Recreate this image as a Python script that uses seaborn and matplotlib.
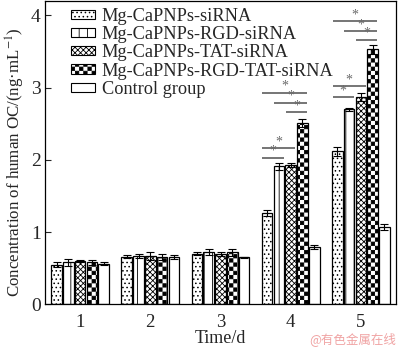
import warnings
warnings.filterwarnings("ignore")
import numpy as np
import pandas as pd
import matplotlib
matplotlib.use("Agg")
import matplotlib.pyplot as plt
import matplotlib.hatch as mhatch
from matplotlib.path import Path
from matplotlib.patches import Patch
import seaborn as sns

# ---------------- data ----------------
days = ["1", "2", "3", "4", "5"]
groups = ["Mg-CaPNPs-siRNA", "Mg-CaPNPs-RGD-siRNA", "Mg-CaPNPs-TAT-siRNA",
          "Mg-CaPNPs-RGD-TAT-siRNA", "Control group"]
mg_sirna = [0.55, 0.66, 0.70, 1.26, 2.12]
mg_rgd = [0.58, 0.67, 0.72, 1.91, 2.70]
mg_tat = [0.60, 0.67, 0.70, 1.93, 2.87]
mg_rgd_tat = [0.58, 0.66, 0.72, 2.51, 3.53]
control = [0.56, 0.66, 0.65, 0.79, 1.07]
err_sirna = [0.03, 0.02, 0.02, 0.04, 0.06]
err_rgd = [0.05, 0.03, 0.04, 0.05, 0.02]
err_tat = [0.02, 0.05, 0.03, 0.03, 0.05]
err_rgd_tat = [0.03, 0.04, 0.05, 0.06, 0.06]
err_control = [0.02, 0.03, 0.01, 0.03, 0.045]
# significance: (day index, group i, group j, y level)
sig_day = [3, 3, 3, 3, 3, 4, 4, 4, 4, 4]
sig_i = [0, 0, 2, 1, 0, 0, 0, 2, 1, 0]
sig_j = [1, 2, 3, 3, 3, 1, 2, 3, 3, 3]
sig_y = [2.03, 2.16, 2.66, 2.79, 2.93, 2.87, 3.02, 3.66, 3.78, 3.92]

values = [mg_sirna, mg_rgd, mg_tat, mg_rgd_tat, control]
errors = [err_sirna, err_rgd, err_tat, err_rgd_tat, err_control]


# ---------------- checkerboard hatch ----------------
class CheckerHatch(mhatch.HatchPatternBase):
    def __init__(self, hatch, density):
        self.num = 24 if "c" in hatch else 0
        self.num_vertices = (self.num * self.num // 2) * 5

    def set_vertices_and_codes(self, vertices, codes):
        n = self.num
        s = 1.0 / n
        ins = 0.004
        k = 0
        for i in range(n):
            for j in range(n):
                if (i + j) % 2 == 0:
                    x0, y0 = i * s + ins, j * s + ins
                    x1, y1 = (i + 1) * s - ins, (j + 1) * s - ins
                    vertices[k:k + 5] = [[x0, y0], [x1, y0], [x1, y1], [x0, y1], [x0, y0]]
                    codes[k:k + 5] = [Path.MOVETO, Path.LINETO, Path.LINETO,
                                      Path.LINETO, Path.CLOSEPOLY]
                    k += 5


mhatch._hatch_types.append(CheckerHatch)

hatches = ["....", "||", "xxxxxx", "c", ""]

# ---------------- style ----------------
sns.set_style("ticks")
plt.rcParams["font.family"] = ["Liberation Serif", "DejaVu Serif"]
plt.rcParams["mathtext.fontset"] = "stix"
plt.rcParams["hatch.color"] = "black"
plt.rcParams["hatch.linewidth"] = 0.6

df = pd.DataFrame({
    "day": np.repeat(days, len(groups)),
    "group": groups * len(days),
    "value": [values[g][d] for d in range(len(days)) for g in range(len(groups))],
})

fig = plt.figure(figsize=(4.0, 3.49), dpi=100)
ax = fig.add_axes([0.1125, 0.128, 0.8775, 0.869])

sns.barplot(data=df, x="day", y="value", hue="group", order=days, hue_order=groups,
            palette=["white"] * 5, edgecolor="black", linewidth=0.9,
            width=0.84, gap=0.1, errorbar=None, legend=False, ax=ax)

bar_conts = list(ax.containers)
w = bar_conts[0][0].get_width()
centers = []
for gi, cont in enumerate(bar_conts):
    xs = []
    for bar in cont:
        bar.set_hatch(hatches[gi])
        xs.append(bar.get_x() + bar.get_width() / 2)
    centers.append(xs)
for gi in range(len(groups)):
    ax.errorbar(centers[gi], values[gi], yerr=errors[gi], fmt="none", ecolor="black",
                elinewidth=0.8, capsize=3, capthick=0.8, zorder=5)

sigc = "#6a6a6a"
for d, i, j, y in zip(sig_day, sig_i, sig_j, sig_y):
    x0 = centers[i][d] - 0.45 * w
    x1 = centers[j][d] + 0.45 * w
    ax.plot([x0, x1], [y, y], color=sigc, lw=1.3, solid_capstyle="butt", zorder=6)
    ax.text((x0 + x1) / 2, y + 0.0, "*", ha="center", va="bottom",
            fontsize=10, color=sigc, zorder=6)

ax.set_xlim(-0.5, 4.5)
ax.set_ylim(0, 4.2)
ax.set_yticks([0, 1, 2, 3, 4])
ax.set_xlabel("Time/d", fontsize=13)
ax.set_ylabel("Concentration of human OC/(ng·mL$^{-1}$)", fontsize=12.2)
ax.xaxis.set_label_coords(0.5, -0.083)
ax.yaxis.set_label_coords(-0.05, 0.47)
ax.tick_params(axis="y", direction="in", length=4, width=0.8, labelsize=14, pad=3)
ax.tick_params(axis="x", direction="in", length=0, labelsize=13.5, pad=7)
for sp in ax.spines.values():
    sp.set_visible(True)
    sp.set_color("black")
    sp.set_linewidth(0.9)

handles = [Patch(facecolor="white", edgecolor="black", hatch=h, lw=0.8) for h in hatches]
ax.legend(handles, groups, loc="upper left", bbox_to_anchor=(0.065, 0.99), frameon=False,
          fontsize=13.2, handlelength=1.3, handleheight=0.4, handletextpad=0.35,
          labelspacing=0.07, borderaxespad=0, borderpad=0.2)

fig.text(0.99, 0.008, "@有色金属在线", ha="right", va="bottom", color="#f0a3a3",
         fontsize=9, family=["Noto Sans CJK SC", "DejaVu Sans"])

fig.savefig("out.png", dpi=100)
